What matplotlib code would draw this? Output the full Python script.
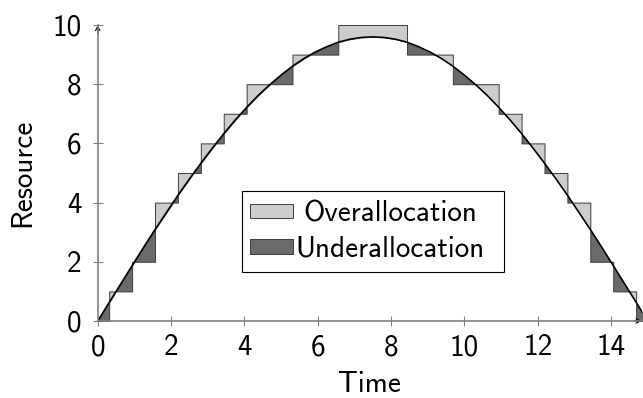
"""
## Resource allocation plot: smooth demand curve against stepped allocation.
"""

import numpy as np
import matplotlib
matplotlib.use('Agg')
import matplotlib.pyplot as plt
from matplotlib.patches import Patch

curve_t = np.linspace(0.0, 15.0, 49)
curve_v = [0.00, 0.63, 1.25, 1.87, 2.49, 3.09, 3.67, 4.25, 4.80, 5.33,
           5.84, 6.33, 6.79, 7.22, 7.62, 7.98, 8.31, 8.61, 8.87, 9.09,
           9.27, 9.42, 9.52, 9.58, 9.60, 9.58, 9.52, 9.42, 9.27, 9.09,
           8.87, 8.61, 8.31, 7.98, 7.62, 7.22, 6.79, 6.33, 5.84, 5.33,
           4.80, 4.25, 3.67, 3.09, 2.49, 1.87, 1.25, 0.63, 0.00]

## Stepped allocation, one level per step of width 0.625.
step_edges = np.linspace(-0.3125, 15.3125, 26)
step_vals = [0, 1, 2, 4, 5, 6, 7, 8, 8, 9, 9, 10, 10, 10,
             9, 9, 8, 8, 7, 6, 5, 4, 2, 1, 0]

labels = ['Overallocation', 'Underallocation']
xticks = [0, 2, 4, 6, 8, 10, 12, 14]
yticks = [0, 2, 4, 6, 8, 10]

## Colours and sizes.
c_over = '#cccccc'
c_under = '#6a6a6a'
c_edge = '#3a3a3a'
c_axis = '#808080'
fntsz = 21

plt.rcParams['font.family'] = ['cmss10', 'DejaVu Sans']
plt.rcParams['axes.unicode_minus'] = False

fig = plt.figure(figsize=(6.43, 3.98), dpi=100)
ax = fig.add_axes([0.152, 0.1935, 0.846, 0.7437])

cv = np.array(curve_v)

## Group neighbouring steps of equal level into one run.
runs = []
i0 = 0
for i in range(1, len(step_vals) + 1):
    if i == len(step_vals) or step_vals[i] != step_vals[i0]:
        runs.append((step_edges[i0], step_edges[i], step_vals[i0]))
        i0 = i

## Fill each run against the curve lying inside it.
for a, b, sv in runs:
    m = (curve_t >= a - 1e-9) & (curve_t <= b + 1e-9)
    xs = curve_t[m]
    ys = cv[m]
    ax.fill_between(xs, ys, sv, where=ys <= sv, interpolate=True,
                    facecolor=c_over, edgecolor=c_edge, lw=0.7, zorder=2)
    ax.fill_between(xs, ys, sv, where=ys >= sv, interpolate=True,
                    facecolor=c_under, edgecolor=c_edge, lw=0.7, zorder=2)

ax.plot(curve_t, cv, color='k', lw=1.1, zorder=3)

ax.set_xlim(0, 14.84)
ax.set_ylim(0, 10)
ax.set_xticks(xticks)
ax.set_yticks(yticks)

for s in ['top', 'right']:
    ax.spines[s].set_visible(False)
for s in ['left', 'bottom']:
    ax.spines[s].set_color(c_axis)
    ax.spines[s].set_linewidth(1.2)
    ax.spines[s].set_zorder(4)

ax.tick_params(direction='inout', length=7, width=0.8, color=c_axis,
               labelsize=fntsz, labelcolor='k')
ax.tick_params(axis='x', pad=6)
ax.tick_params(axis='y', pad=8)

## Arrow heads at the ends of both axis lines.
ax.annotate('', xy=(1.0, 0.0), xytext=(0.985, 0.0), xycoords='axes fraction',
            arrowprops=dict(arrowstyle='->', color='k', lw=0.8,
                            mutation_scale=8, shrinkA=0, shrinkB=0))
ax.annotate('', xy=(0.0, 1.0), xytext=(0.0, 0.97), xycoords='axes fraction',
            arrowprops=dict(arrowstyle='->', color='k', lw=0.8,
                            mutation_scale=8, shrinkA=0, shrinkB=0))

ax.set_xlabel('Time', fontsize=fntsz, labelpad=7)
ax.set_ylabel('Resource', fontsize=fntsz, labelpad=12)

handles = [Patch(facecolor=c_over, edgecolor=c_edge, lw=0.7),
           Patch(facecolor=c_under, edgecolor=c_edge, lw=0.7)]
leg = ax.legend(handles, labels, loc='lower left',
                bbox_to_anchor=(0.2647, 0.1666, 0.4827, 0.276),
                mode='expand', borderaxespad=0,
                fontsize=fntsz, frameon=True, fancybox=False,
                framealpha=1, edgecolor='k', handlelength=1.47,
                handleheight=0.38, handletextpad=0.08, labelspacing=0.3,
                borderpad=0.3)
leg.get_frame().set_linewidth(0.8)
leg.set_zorder(5)

## Centre the shorter label in its cell, as the reference does.
fig.canvas.draw()
rnd = fig.canvas.get_renderer()
t0, t1 = leg.get_texts()
w0 = t0.get_window_extent(rnd).width
w1 = t1.get_window_extent(rnd).width
t0.set_x((w1 - w0) / 2.0)

fig.savefig('out.png', dpi=100, facecolor='w')
